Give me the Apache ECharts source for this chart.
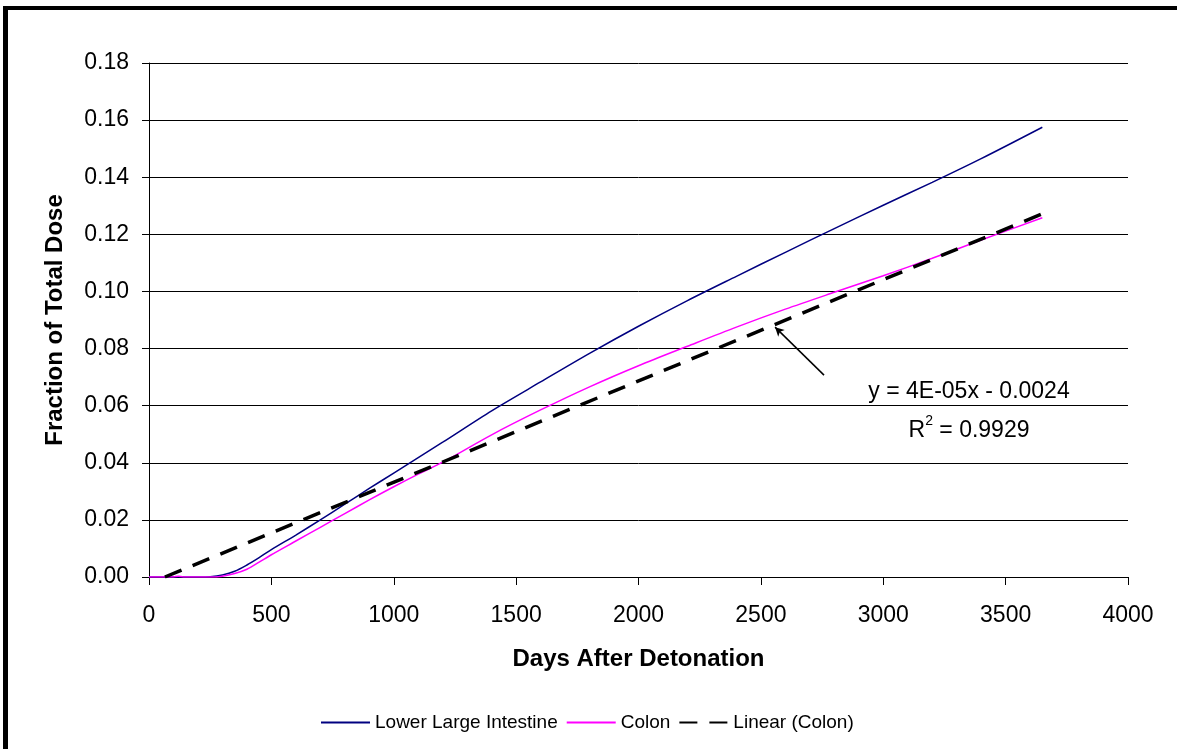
<!DOCTYPE html>
<html>
<head>
<meta charset="utf-8">
<script src="https://cdn.jsdelivr.net/npm/echarts@6/dist/echarts.min.js"></script>
<style>
  html, body { margin: 0; padding: 0; background: #fff; overflow: hidden; }
  #frame { position: absolute; left: 3px; top: 6px; width: 3000px; height: 3000px;
           border-left: 5px solid #000; border-top: 4px solid #000; box-sizing: border-box; }
  #chart { position: absolute; left: 0; top: 0; width: 1177px; height: 749px; }
</style>
</head>
<body>
<div id="frame"></div>
<div id="chart"></div>
<script>
// Days after detonation at which the dose fractions are sampled
const days = [0, 100, 120, 140, 200, 250, 300, 350, 400, 450, 500, 600, 700, 800, 900, 1000,
              1100, 1200, 1400, 1600, 1800, 2000, 2200, 2400, 2600, 2800, 3000, 3200, 3400, 3650];

// Cumulative fraction of total dose, lower large intestine
const lowerLargeIntestine = [0, 0, 0, 0, 0, 0.0001, 0.0007, 0.0020, 0.0042, 0.0068, 0.0096, 0.0147,
  0.0200, 0.0255, 0.0310, 0.0364, 0.0418, 0.0472, 0.0582, 0.0683, 0.0783, 0.0878, 0.0968,
  0.1053, 0.1137, 0.1220, 0.1302, 0.1382, 0.1465, 0.1575];

// Cumulative fraction of total dose, colon
const colon = [0, 0, 0.0003, 0, 0, 0, 0.0003, 0.0012, 0.0027, 0.0052, 0.0078, 0.0126,
  0.0174, 0.0222, 0.0270, 0.0316, 0.0360, 0.0402, 0.0498, 0.0585, 0.0666, 0.0740, 0.0808,
  0.0875, 0.0938, 0.0997, 0.1055, 0.1116, 0.1180, 0.1258];

// Linear trendline of the colon curve (end points, clipped at zero)
const trendDays = [65, 3650];
const trendValues = [0, 0.1272];

// Trendline annotation
const equationText = 'y = 4E-05x - 0.0024';
const rSquaredText = '0.9929';
const arrowFrom = [2758, 0.0707];
const arrowTo = [2558, 0.0875];

// Axis ticks
const xTicks = { min: 0, max: 4000, interval: 500 };
const yTicks = { min: 0, max: 0.18, interval: 0.02 };

const FONT = '"Liberation Sans", Arial, sans-serif';

const pairs = (xs, ys) => xs.map((x, i) => [x, ys[i]]);

const chart = echarts.init(document.getElementById('chart'), null, { renderer: 'canvas' });

chart.setOption({
  animation: false,
  backgroundColor: 'transparent',
  textStyle: { fontFamily: FONT, color: '#000' },
  grid: { left: 149, right: 49, top: 63, bottom: 172, containLabel: false },
  legend: {
    left: 315,
    top: 708,
    itemWidth: 49,
    itemHeight: 14,
    itemGap: 8,
    itemStyle: { opacity: 0 },
    textStyle: { fontFamily: FONT, fontSize: 19, color: '#000' },
    data: ['Lower Large Intestine', 'Colon', 'Linear (Colon)']
  },
  xAxis: {
    type: 'value',
    min: xTicks.min, max: xTicks.max, interval: xTicks.interval,
    name: 'Days After Detonation',
    nameLocation: 'middle',
    nameGap: 82,
    nameTextStyle: { fontFamily: FONT, fontSize: 24, fontWeight: 'bold', color: '#000', verticalAlign: 'middle' },
    axisLine: { show: true, lineStyle: { color: '#000', width: 1 } },
    axisTick: { show: true, inside: false, length: 8, lineStyle: { color: '#000' } },
    axisLabel: { fontFamily: FONT, fontSize: 23, color: '#000', margin: 27, lineHeight: 23,
                 formatter: v => String(v) },
    splitLine: { show: false }
  },
  yAxis: {
    type: 'value',
    min: yTicks.min, max: yTicks.max, interval: yTicks.interval,
    name: 'Fraction of Total Dose',
    nameLocation: 'middle',
    nameGap: 94,
    nameRotate: 90,
    nameTextStyle: { fontFamily: FONT, fontSize: 24, fontWeight: 'bold', color: '#000', verticalAlign: 'middle' },
    axisLine: { show: true, lineStyle: { color: '#000', width: 1 } },
    axisTick: { show: true, inside: false, length: 7, lineStyle: { color: '#000' } },
    axisLabel: { fontFamily: FONT, fontSize: 23, color: '#000', margin: 20,
                 formatter: v => v.toFixed(2) },
    splitLine: { show: true, lineStyle: { color: '#000', width: 1 } }
  },
  series: [
    {
      name: 'Lower Large Intestine',
      type: 'line',
      data: pairs(days, lowerLargeIntestine),
      showSymbol: false,
      symbol: 'none',
      smooth: 0.3,
      color: '#000080',
      lineStyle: { color: '#000080', width: 1.5 },
      z: 3
    },
    {
      name: 'Colon',
      type: 'line',
      data: pairs(days, colon),
      showSymbol: false,
      symbol: 'none',
      smooth: 0.3,
      color: '#FF00FF',
      lineStyle: { color: '#FF00FF', width: 1.5 },
      z: 3
    },
    {
      name: 'Linear (Colon)',
      type: 'line',
      data: pairs(trendDays, trendValues),
      showSymbol: false,
      symbol: 'none',
      color: '#000',
      lineStyle: { color: '#000', width: 3.5, type: [18, 12] },
      z: 4,
      markLine: {
        silent: true,
        animation: false,
        symbol: ['none', 'arrow'],
        symbolSize: [7, 9],
        label: { show: false },
        lineStyle: { color: '#000', width: 1.5, type: 'solid' },
        emphasis: { disabled: true },
        data: [[{ coord: arrowFrom }, { coord: arrowTo }]]
      }
    }
  ],
  graphic: [
    {
      type: 'text',
      x: 969, y: 392,
      style: { text: equationText, font: '23px ' + FONT, fill: '#000',
               align: 'center', verticalAlign: 'middle' }
    },
    {
      type: 'text',
      x: 969, y: 428,
      style: {
        text: '{r|R}{s|2}{r| = ' + rSquaredText + '}',
        align: 'center', verticalAlign: 'middle',
        rich: {
          r: { fontFamily: FONT, fontSize: 23, lineHeight: 28, fill: '#000', verticalAlign: 'bottom' },
          s: { fontFamily: FONT, fontSize: 14, lineHeight: 14, fill: '#000', verticalAlign: 'top' }
        }
      }
    }
  ]
});
</script>
</body>
</html>
